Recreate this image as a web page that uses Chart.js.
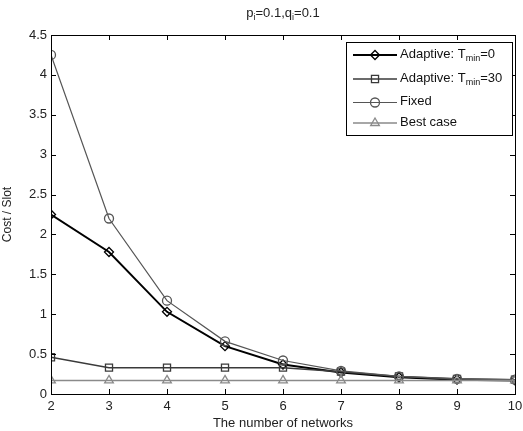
<!DOCTYPE html>
<html>
<head>
<meta charset="utf-8">
<script src="https://cdn.jsdelivr.net/npm/chart.js@4.4.1/dist/chart.umd.min.js"></script>
<style>
  html, body { margin: 0; padding: 0; background: #fff; }
  #wrap { width: 523px; height: 431px; }
</style>
</head>
<body>
<div id="wrap"><canvas id="c" width="523" height="431"></canvas></div>
<script>
  var NETWORKS = [2, 3, 4, 5, 6, 7, 8, 9, 10];
  var ADAPTIVE_T0 = [2.25, 1.78, 1.03, 0.60, 0.37, 0.27, 0.21, 0.18, 0.17];
  var ADAPTIVE_T30 = [0.46, 0.33, 0.33, 0.33, 0.33, 0.28, 0.22, 0.19, 0.18];
  var FIXED = [4.25, 2.20, 1.17, 0.66, 0.42, 0.29, 0.22, 0.19, 0.18];
  var BEST_CASE = [0.17, 0.17, 0.17, 0.17, 0.17, 0.17, 0.17, 0.17, 0.17];

  var FONT = '"Liberation Sans", Arial, sans-serif';

  function pts(ys) {
    return NETWORKS.map(function (x, i) { return { x: x, y: ys[i] }; });
  }

  var SERIES = [
    { label: 'Adaptive: T', sub: 'min', tail: '=0', data: ADAPTIVE_T0, color: '#000000', width: 2, style: 'rectRot', r: 4.5 },
    { label: 'Adaptive: T', sub: 'min', tail: '=30', data: ADAPTIVE_T30, color: '#3a3a3a', width: 1.5, style: 'rect', r: 5 },
    { label: 'Fixed', sub: '', tail: '', data: FIXED, color: '#555555', width: 1.2, style: 'circle', r: 4.5 },
    { label: 'Best case', sub: '', tail: '', data: BEST_CASE, color: '#8a8a8a', width: 1.5, style: 'triangle', r: 5 }
  ];

  // best case drawn first, at the bottom
  var datasets = SERIES.slice().reverse().map(function (s) {
    return {
      label: s.label + s.sub + s.tail,
      data: pts(s.data),
      borderColor: s.color,
      backgroundColor: 'rgba(255,255,255,0)',
      borderWidth: s.width,
      pointStyle: s.style,
      pointRadius: s.r,
      pointBorderColor: s.color,
      pointBorderWidth: 1.3,
      pointBackgroundColor: 'rgba(255,255,255,0)',
      tension: 0,
      fill: false
    };
  });

  function drawSubText(ctx, parts, x, y, align, size) {
    var mainF = size + 'px ' + FONT, subF = Math.round(size * 0.72) + 'px ' + FONT;
    var total = 0;
    parts.forEach(function (p) {
      ctx.font = p.sub ? subF : mainF;
      total += ctx.measureText(p.t).width;
    });
    var cx = align === 'center' ? x - total / 2 : x;
    ctx.textAlign = 'left';
    ctx.textBaseline = 'middle';
    parts.forEach(function (p) {
      ctx.font = p.sub ? subF : mainF;
      ctx.fillText(p.t, cx, p.sub ? y + 5 : y);
      cx += ctx.measureText(p.t).width;
    });
  }

  var matlabPlugin = {
    id: 'matlab',
    afterDraw: function (chart) {
      var ctx = chart.ctx;
      var a = chart.chartArea;
      var xs = chart.scales.x, ys = chart.scales.y;
      ctx.save();
      // axes box
      ctx.strokeStyle = '#000';
      ctx.lineWidth = 1;
      ctx.strokeRect(Math.round(a.left) + 0.5, Math.round(a.top) + 0.5, Math.round(a.right - a.left), Math.round(a.bottom - a.top));
      // inside ticks, MATLAB style
      ctx.beginPath();
      NETWORKS.forEach(function (v) {
        var px = Math.round(xs.getPixelForValue(v)) + 0.5;
        ctx.moveTo(px, a.bottom); ctx.lineTo(px, a.bottom - 5);
        ctx.moveTo(px, a.top); ctx.lineTo(px, a.top + 5);
      });
      ys.ticks.forEach(function (t) {
        var py = Math.round(ys.getPixelForValue(t.value)) + 0.5;
        ctx.moveTo(a.left, py); ctx.lineTo(a.left + 5, py);
        ctx.moveTo(a.right, py); ctx.lineTo(a.right - 5, py);
      });
      ctx.stroke();

      // title with subscripts
      ctx.fillStyle = '#222';
      drawSubText(ctx, [{ t: 'p' }, { t: 'i', sub: true }, { t: '=0.1,q' }, { t: 'i', sub: true }, { t: '=0.1' }],
        (a.left + a.right) / 2, 13, 'center', 13);

      // legend box
      var lx = 346.5, ly = 42.5, lw = 166, lh = 93;
      ctx.fillStyle = '#fff';
      ctx.fillRect(lx, ly, lw, lh);
      ctx.strokeStyle = '#000';
      ctx.lineWidth = 1;
      ctx.strokeRect(lx, ly, lw, lh);
      var rows = [55, 79, 102.5, 123];
      SERIES.forEach(function (s, i) {
        var y = rows[i];
        ctx.strokeStyle = s.color;
        ctx.lineWidth = s.width;
        ctx.beginPath();
        ctx.moveTo(353, y); ctx.lineTo(397, y);
        ctx.stroke();
        ctx.lineWidth = 1.3;
        ctx.fillStyle = 'rgba(255,255,255,0)';
        Chart.helpers.drawPoint(ctx, { pointStyle: s.style, radius: s.r, borderWidth: 1.3 }, 375, y);
        ctx.fillStyle = '#111';
        var parts = [{ t: s.label }];
        if (s.sub) { parts.push({ t: s.sub, sub: true }); parts.push({ t: s.tail }); }
        drawSubText(ctx, parts, 400, y - 1, 'left', 13);
      });
      ctx.restore();
    }
  };

  new Chart(document.getElementById('c'), {
    type: 'line',
    data: { datasets: datasets },
    plugins: [matlabPlugin],
    options: {
      responsive: false,
      animation: false,
      layout: { padding: { top: 35, right: 8, left: 0, bottom: 0 } },
      plugins: {
        legend: { display: false },
        tooltip: { enabled: false },
        title: { display: false }
      },
      scales: {
        x: {
          type: 'linear',
          min: 2,
          max: 10,
          grid: { display: false, drawTicks: false },
          border: { display: false },
          ticks: { stepSize: 1, color: '#222', padding: 5, font: { family: FONT, size: 13 } },
          title: { display: true, text: 'The number of networks', color: '#222', padding: { top: 0, bottom: 0 }, font: { family: FONT, size: 13 } },
          afterFit: function (s) { s.height = 37; s.paddingLeft = 0; s.paddingRight = 0; }
        },
        y: {
          type: 'linear',
          min: 0,
          max: 4.5,
          grid: { display: false, drawTicks: false },
          border: { display: false },
          ticks: {
            stepSize: 0.5, color: '#222', padding: 4, font: { family: FONT, size: 13 },
            callback: function (v) { return String(Math.round(v * 10) / 10); }
          },
          title: { display: true, text: 'Cost / Slot', color: '#222', padding: { top: 0, bottom: 2 }, font: { family: FONT, size: 12 } },
          afterFit: function (s) { s.width = 51; s.paddingTop = 0; s.paddingBottom = 0; }
        }
      }
    }
  });
</script>
</body>
</html>
